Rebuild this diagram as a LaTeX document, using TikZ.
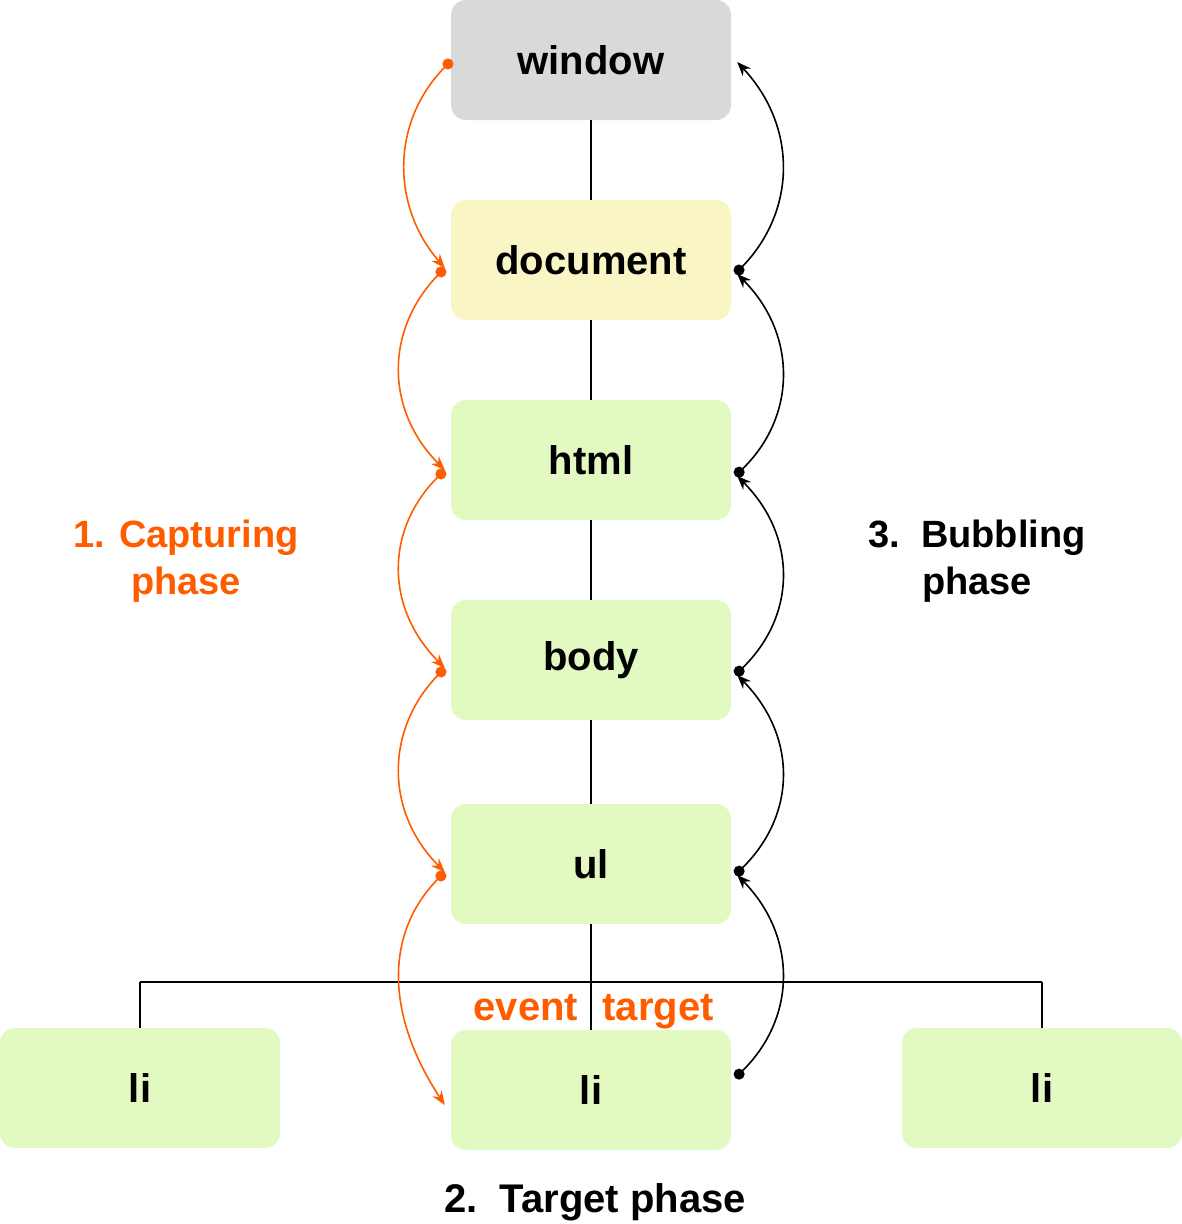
\documentclass[tikz,border=0pt]{standalone}
\usepackage{fontspec}
\setmainfont{Liberation Sans}
\usetikzlibrary{arrows.meta,calc}
\definecolor{wingray}{HTML}{D9D9D9}
\definecolor{docyellow}{HTML}{FAF5C5}
\definecolor{elgreen}{HTML}{E3F9C2}
\definecolor{evorange}{HTML}{FF5C00}
\tikzset{
  elbox/.style={rounded corners=15pt, minimum width=280pt, minimum height=120pt, inner sep=0pt,
    font=\fontsize{40}{47}\selectfont\bfseries, text=black},
  treeline/.style={draw=black, line width=1.5pt},
  capture/.style={draw=evorange, line width=1.6pt, {Circle[length=11pt]}-{Stealth[length=14pt,width=11pt]}},
  bubble/.style={draw=black, line width=1.6pt, {Circle[length=11pt]}-{Stealth[length=14pt,width=11pt]}},
  phaselabel/.style={font=\fontsize{38}{47}\selectfont\bfseries, align=center},
  evlabel/.style={font=\fontsize{40}{47}\selectfont\bfseries, text=evorange, anchor=base, inner sep=0pt},
}
\begin{document}
\begin{tikzpicture}[x=1pt,y=-1pt]
\useasboundingbox (0,0) rectangle (1182,1224);
\node[elbox, fill=wingray] (window) at (591,60) {window};
\node[elbox, fill=docyellow] (document) at (591,260) {document};
\node[elbox, fill=elgreen] (html) at (591,460) {html};
\node[elbox, fill=elgreen] (body) at (591,660) {body};
\node[elbox, fill=elgreen] (ul) at (591,864) {ul};
\node[elbox, fill=elgreen] (li1) at (140,1088) {li};
\node[elbox, fill=elgreen] (li2) at (591,1090) {li};
\node[elbox, fill=elgreen] (li3) at (1042,1088) {li};
% tree
\draw[treeline] (window.south) -- (document.north);
\draw[treeline] (document.south) -- (html.north);
\draw[treeline] (html.south) -- (body.north);
\draw[treeline] (body.south) -- (ul.north);
\draw[treeline] (ul.south) -- (li2.north);
\coordinate (bar) at (591,982);
\draw[treeline] (li1.north) -- (li1.north |- bar);
\draw[treeline] (li3.north) -- (li3.north |- bar);
\draw[draw=black, line width=2.5pt] (li1.north |- bar) -- (li3.north |- bar);
% labels
\node[evlabel] (ev) at (526,1020) {event};
\node[evlabel] (tg) at (658,1020) {target};
\node[phaselabel, text=evorange] (cap) at (186,561) {1. Capturing\\phase};
\node[phaselabel, text=black] (bub) at (977,561) {3.\ \ Bubbling\\phase};
\node[phaselabel, font=\fontsize{40}{47}\selectfont\bfseries, text=black] (tgt) at (595,1202) {2.\ \ Target phase};
% capturing arrows
\draw[capture] ([xshift=1pt]window.west) .. controls (391,122) and (391,206) .. ([xshift=-6pt,yshift=-8pt]document.west);
\draw[capture] ([xshift=-6pt,yshift=-8pt]document.west) .. controls (385,330) and (385,410) .. ([xshift=-6pt,yshift=-10pt]html.west);
\draw[capture] ([xshift=-6pt,yshift=-10pt]html.west) .. controls (385,530) and (385,608) .. ([xshift=-6pt,yshift=-8pt]body.west);
\draw[capture] ([xshift=-6pt,yshift=-8pt]body.west) .. controls (385,730) and (385,812) .. ([xshift=-6pt,yshift=-8pt]ul.west);
\draw[capture] ([xshift=-6pt,yshift=-8pt]ul.west) .. controls (385,933) and (385,1014) .. ([xshift=-6pt,yshift=-15pt]li2.west);
% bubbling arrows
\draw[bubble] ([xshift=4pt,yshift=12pt]li2.east) .. controls (797,1017) and (797,936) .. ([xshift=6pt,yshift=-11pt]ul.east);
\draw[bubble] ([xshift=4pt,yshift=-11pt]ul.east) .. controls (797,814) and (797,736) .. ([xshift=6pt,yshift=-15pt]body.east);
\draw[bubble] ([xshift=4pt,yshift=-15pt]body.east) .. controls (797,615) and (797,536) .. ([xshift=6pt,yshift=-16pt]html.east);
\draw[bubble] ([xshift=4pt,yshift=-16pt]html.east) .. controls (797,416) and (797,334) .. ([xshift=6pt,yshift=-14pt]document.east);
\draw[bubble] ([xshift=4pt,yshift=-14pt]document.east) .. controls (797,210) and (797,126) .. ([xshift=6pt,yshift=-2pt]window.east);
\end{tikzpicture}
\end{document}
